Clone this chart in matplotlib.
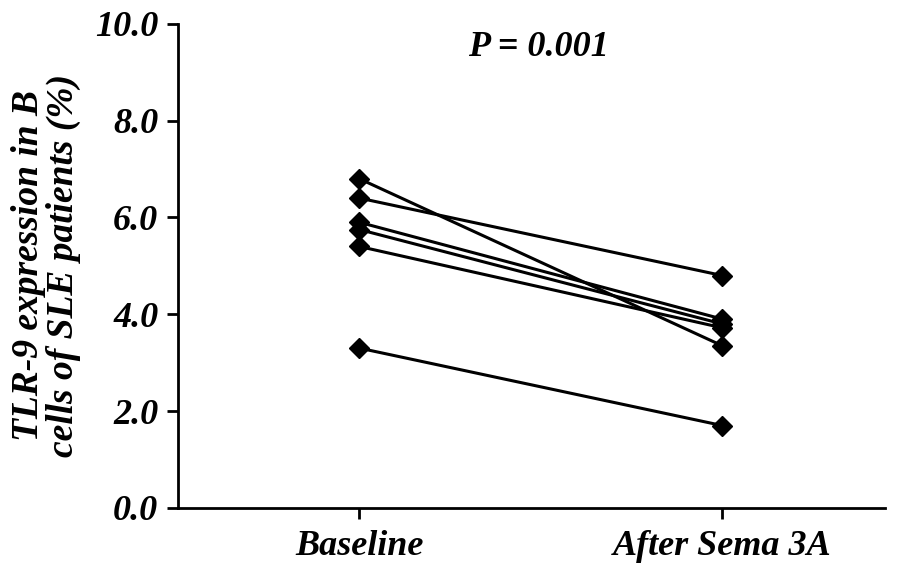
import matplotlib.pyplot as plt

# data values
groups = ["Baseline", "After Sema 3A"]
baseline = [6.8, 6.4, 5.9, 5.75, 5.4, 3.3]
after = [3.35, 4.8, 3.9, 3.8, 3.72, 1.7]
yticks = [0.0, 2.0, 4.0, 6.0, 8.0, 10.0]

font = {"family": "Liberation Serif", "weight": "bold", "style": "italic"}

fig = plt.figure(figsize=(8.98, 5.68), dpi=100)
ax = fig.add_axes([0.198, 0.106, 0.788, 0.852])

for b, a in zip(baseline, after):
    ax.plot([0, 1], [b, a], color="black", lw=2.2, marker="D", markersize=10,
            clip_on=False)

ax.set_xlim(-0.5, 1.45)
ax.set_ylim(0, 10)
ax.set_xticks([0, 1])
ax.set_xticklabels(groups, fontdict=font, fontsize=26)
ax.set_yticks(yticks)
ax.set_yticklabels(["%.1f" % v for v in yticks], fontdict=font, fontsize=26)
ax.spines["top"].set_visible(False)
ax.spines["right"].set_visible(False)
for s in ["left", "bottom"]:
    ax.spines[s].set_linewidth(2.0)
ax.tick_params(direction="out", width=2.0, length=8)
ax.tick_params(axis="x", pad=8)
ax.tick_params(axis="y", pad=6)
ax.set_ylabel("TLR-9 expression in B\ncells of SLE patients (%)",
              fontdict=font, fontsize=27, linespacing=1.0, labelpad=10)
ax.text(0.495, 9.52, "P = 0.001", fontdict=font, fontsize=26, ha="center", va="center")

fig.savefig("out.png", dpi=100)
